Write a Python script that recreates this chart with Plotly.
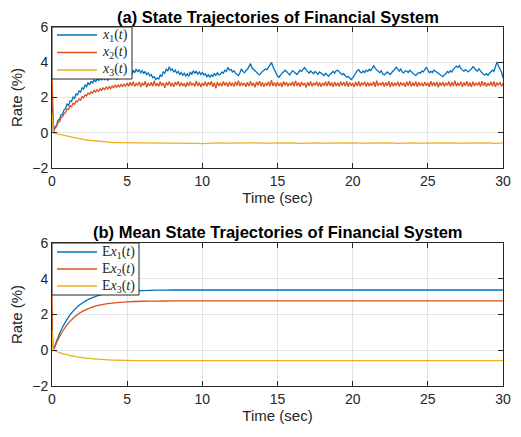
import numpy as np
import plotly.graph_objects as go

# ---------------- data ----------------
DT = 0.1  # sampling step of the simulated trajectories (sec)

x1 = [
    2.00, 0.08, 0.35, 0.42, 0.70, 0.78, 1.02, 1.05, 1.30, 1.36,
    1.62, 1.55, 1.80, 1.78, 2.02, 1.95, 2.20, 2.15, 2.38, 2.30,
    2.55, 2.48, 2.70, 2.62, 2.85, 2.72, 2.92, 2.80, 3.02, 2.88,
    3.08, 2.95, 3.12, 2.98, 3.18, 3.02, 3.15, 2.96, 3.12, 3.05,
    3.20, 3.05, 3.22, 3.00, 3.18, 3.08, 3.25, 3.10, 3.30, 3.15,
    3.35, 3.20, 3.42, 3.28, 3.55, 3.40, 3.62, 3.45, 3.58, 3.40,
    3.52, 3.35, 3.48, 3.30, 3.40, 3.22, 3.30, 3.12, 3.18, 3.02,
    3.10, 3.05, 3.28, 3.20, 3.45, 3.38, 3.60, 3.50, 3.75, 3.55,
    3.62, 3.45, 3.55, 3.38, 3.48, 3.30, 3.42, 3.25, 3.38, 3.22,
    3.35, 3.20, 3.45, 3.30, 3.52, 3.38, 3.48, 3.32, 3.45, 3.30,
    3.42, 3.28, 3.35, 3.18, 3.30, 3.15, 3.28, 3.20, 3.35, 3.25,
    3.40, 3.28, 3.32, 3.45, 3.38, 3.55, 3.48, 3.72, 3.55, 3.60,
    3.45, 3.52, 3.38, 3.30, 3.25, 3.40, 3.62, 3.48, 3.40, 3.52,
    3.60, 3.75, 3.92, 3.70, 3.60, 3.52, 3.45, 3.35, 3.28, 3.40,
    3.48, 3.55, 3.62, 3.58, 3.70, 3.85, 3.98, 3.75, 3.55, 3.40,
    3.22, 3.15, 3.30, 3.38, 3.45, 3.55, 3.48, 3.35, 3.28, 3.40,
    3.52, 3.45, 3.35, 3.30, 3.42, 3.55, 3.48, 3.62, 3.70, 3.58,
    3.45, 3.38, 3.50, 3.42, 3.35, 3.48, 3.40, 3.32, 3.45, 3.38,
    3.30, 3.25, 3.38, 3.28, 3.20, 3.32, 3.40, 3.48, 3.38, 3.52,
    3.55, 3.45, 3.38, 3.30, 3.35, 3.25, 3.15, 3.20, 3.08, 3.02,
    3.10, 3.25, 3.35, 3.52, 3.58, 3.45, 3.40, 3.50, 3.42, 3.55,
    3.48, 3.60, 3.52, 3.68, 3.80, 3.65, 3.55, 3.48, 3.40, 3.52,
    3.35, 3.28, 3.40, 3.45, 3.38, 3.30, 3.42, 3.50, 3.60, 3.72,
    3.58, 3.50, 3.62, 3.45, 3.40, 3.52, 3.48, 3.42, 3.55, 3.45,
    3.38, 3.30, 3.25, 3.35, 3.42, 3.38, 3.50, 3.45, 3.62, 3.72,
    3.55, 3.40, 3.48, 3.42, 3.55, 3.50, 3.45, 3.38, 3.30, 3.22,
    3.18, 3.28, 3.35, 3.48, 3.40, 3.52, 3.45, 3.60, 3.68, 3.78,
    3.70, 3.82, 3.65, 3.55, 3.48, 3.58, 3.52, 3.45, 3.55, 3.62,
    3.75, 3.68, 3.55, 3.50, 3.62, 3.48, 3.40, 3.32, 3.28, 3.35,
    3.25, 3.38, 3.45, 3.55, 3.48, 3.70, 4.02, 3.78, 3.65, 3.45,
    3.10,
]

x2 = [
    3.30, 0.05, 0.25, 0.35, 0.58, 0.62, 0.85, 0.90, 1.08, 1.15,
    1.35, 1.32, 1.52, 1.48, 1.68, 1.62, 1.80, 1.75, 1.92, 1.85,
    2.05, 1.98, 2.15, 2.08, 2.25, 2.18, 2.32, 2.24, 2.40, 2.30,
    2.45, 2.35, 2.50, 2.40, 2.55, 2.45, 2.60, 2.48, 2.62, 2.50,
    2.66, 2.55, 2.70, 2.58, 2.72, 2.60, 2.74, 2.62, 2.76, 2.64,
    2.82, 2.64, 2.86, 2.66, 2.90, 2.62, 2.80, 2.70, 2.88, 2.60,
    2.84, 2.68, 2.92, 2.58, 2.82, 2.66, 2.87, 2.63, 2.95, 2.65,
    2.80, 2.62, 2.89, 2.67, 2.84, 2.55, 2.86, 2.69, 2.91, 2.64,
    2.83, 2.61, 2.88, 2.70, 2.93, 2.63, 2.85, 2.66, 2.81, 2.59,
    2.87, 2.65, 2.90, 2.68, 2.82, 2.62, 2.94, 2.66, 2.85, 2.60,
    2.82, 2.67, 2.89, 2.63, 2.86, 2.70, 2.92, 2.61, 2.84, 2.52,
    2.88, 2.66, 2.83, 2.64, 2.91, 2.68, 2.86, 2.60, 2.89, 2.65,
    2.84, 2.62, 2.90, 2.67, 2.96, 2.64, 2.85, 2.69, 2.82, 2.61,
    2.87, 2.63, 2.92, 2.66, 2.84, 2.58, 2.89, 2.68, 2.93, 2.64,
    2.86, 2.61, 2.83, 2.67, 2.90, 2.63, 2.98, 2.65, 2.85, 2.62,
    2.88, 2.66, 2.84, 2.60, 2.91, 2.68, 2.86, 2.64, 2.82, 2.67,
    2.89, 2.63, 2.94, 2.66, 2.85, 2.61, 2.88, 2.69, 2.83, 2.57,
    2.87, 2.65, 2.91, 2.62, 2.84, 2.68, 2.90, 2.64, 2.86, 2.61,
    2.83, 2.67, 2.89, 2.63, 2.92, 2.66, 2.85, 2.60, 2.88, 2.65,
    2.84, 2.62, 2.90, 2.68, 2.86, 2.64, 2.93, 2.61, 2.87, 2.66,
    2.82, 2.60, 2.88, 2.65, 2.91, 2.63, 2.85, 2.69, 2.89, 2.62,
    2.86, 2.64, 2.83, 2.67, 2.90, 2.61, 2.95, 2.65, 2.84, 2.68,
    2.88, 2.62, 2.85, 2.66, 2.92, 2.59, 2.87, 2.64, 2.83, 2.67,
    2.90, 2.63, 2.86, 2.68, 2.84, 2.61, 2.89, 2.66, 2.94, 2.62,
    2.85, 2.65, 2.91, 2.60, 2.87, 2.67, 2.83, 2.63, 2.88, 2.66,
    2.84, 2.61, 2.92, 2.66, 2.86, 2.64, 2.89, 2.58, 2.85, 2.67,
    2.88, 2.63, 2.84, 2.68, 2.91, 2.62, 2.87, 2.65, 2.96, 2.64,
    2.83, 2.66, 2.89, 2.61, 2.86, 2.67, 2.92, 2.63, 2.85, 2.60,
    2.90, 2.65, 2.84, 2.68, 2.88, 2.62, 2.93, 2.66, 2.86, 2.63,
    2.82, 2.67, 2.89, 2.64, 2.91, 2.61, 2.85, 2.69, 2.87, 2.63,
    2.80,
]

# x3: 0.1 s samples over the first 5 s, then 0.5 s samples
x3_head = [
    1.10, 0.00, -0.03, -0.05, -0.08, -0.10, -0.12, -0.14, -0.16, -0.18,
    -0.20, -0.22, -0.24, -0.26, -0.28, -0.30, -0.31, -0.33, -0.34, -0.36,
    -0.37, -0.39, -0.40, -0.41, -0.42, -0.44, -0.45, -0.46, -0.47, -0.48,
    -0.49, -0.50, -0.50, -0.51, -0.52, -0.53, -0.53, -0.54, -0.54, -0.55,
    -0.55, -0.56, -0.56, -0.56, -0.57, -0.57, -0.57, -0.58, -0.57, -0.58,
]
x3_tail = [
    -0.58, -0.59, -0.57, -0.58, -0.60, -0.58, -0.57, -0.59, -0.58, -0.60,
    -0.62, -0.58, -0.57, -0.59, -0.58, -0.58, -0.60, -0.57, -0.59, -0.58,
    -0.57, -0.59, -0.58, -0.60, -0.58, -0.57, -0.59, -0.58, -0.58, -0.60,
    -0.57, -0.59, -0.58, -0.59, -0.57, -0.58, -0.60, -0.58, -0.57, -0.59,
    -0.58, -0.58, -0.60, -0.57, -0.59, -0.58, -0.57, -0.59, -0.58, -0.60,
    -0.58,
]

# mean trajectories
t_mean = [0.0, 0.1, 0.25, 0.5, 0.75, 1.0, 1.25, 1.5, 1.75, 2.0, 2.5, 3.0,
          3.5, 4.0, 4.5, 5.0, 6.0, 7.0, 8.0, 10.0, 15.0, 20.0, 25.0, 30.0]
ex1 = [2.20, 0.05, 0.38, 0.92, 1.37, 1.73, 2.03, 2.27, 2.47, 2.63, 2.87, 3.04,
       3.15, 3.22, 3.27, 3.30, 3.34, 3.36, 3.37, 3.37, 3.37, 3.37, 3.37, 3.37]
ex2 = [3.50, 0.05, 0.31, 0.76, 1.12, 1.42, 1.66, 1.86, 2.03, 2.16, 2.36, 2.49,
       2.58, 2.64, 2.68, 2.71, 2.74, 2.75, 2.76, 2.76, 2.76, 2.76, 2.76, 2.76]
ex3 = [1.10, 0.00, -0.05, -0.13, -0.20, -0.25, -0.30, -0.34, -0.38, -0.41, -0.46, -0.50,
       -0.53, -0.55, -0.56, -0.57, -0.58, -0.58, -0.58, -0.58, -0.58, -0.58, -0.58, -0.58]

x_ticks = [0, 5, 10, 15, 20, 25, 30]
y_ticks = [-2, 0, 2, 4, 6]

names_a = ["<i>x</i><sub>1</sub>(<i>t</i>)", "<i>x</i><sub>2</sub>(<i>t</i>)", "<i>x</i><sub>3</sub>(<i>t</i>)"]
names_b = ["E<i>x</i><sub>1</sub>(<i>t</i>)", "E<i>x</i><sub>2</sub>(<i>t</i>)", "E<i>x</i><sub>3</sub>(<i>t</i>)"]
colors = ["#0072BD", "#D95319", "#EDB120"]

# ---------------- figure ----------------
# the page body has an 8px margin, so the figure is offset by 8px in the window
OFF = 8
VW, VH = 521, 437                 # window size
W, H = VW - OFF, VH - OFF         # figure size
# plot-area edges in window pixels
PL, PR, PT, PB = 52, 503, 27, 386
ML, MR, MT, MB = PL - OFF, W - (PR - OFF), PT - OFF, H - (PB - OFF)
PW, PH = W - ML - MR, H - MT - MB

def px_x(p):  # window pixel -> paper x
    return (p - OFF - ML) / PW

def px_y(p):  # window pixel -> paper y
    return (H - MB - (p - OFF)) / PH

t_sim = np.round(np.arange(len(x1)) * DT, 2)
t3 = np.concatenate([np.round(np.arange(len(x3_head)) * DT, 2),
                     np.round(5.0 + np.arange(len(x3_tail)) * 0.5, 2)])
x3 = x3_head + x3_tail

fig = go.Figure()
for ys, ts, nm, c in [(x1, t_sim, names_a[0], colors[0]),
                      (x2, t_sim, names_a[1], colors[1]),
                      (x3, t3, names_a[2], colors[2])]:
    fig.add_trace(go.Scatter(x=ts, y=ys, mode="lines", name=nm, showlegend=False,
                             line=dict(color=c, width=1.3),
                             xaxis="x", yaxis="y"))
for ys, nm, c in zip([ex1, ex2, ex3], names_b, colors):
    fig.add_trace(go.Scatter(x=t_mean, y=ys, mode="lines", name=nm, showlegend=False,
                             line=dict(color=c, width=1.3, shape="spline", smoothing=0.6),
                             xaxis="x2", yaxis="y2"))

TOP_DOM = [px_y(168), 1.0]
BOT_DOM = [0.0, px_y(243)]
tick_font = dict(family="Liberation Sans, Arial, sans-serif", size=14, color="#262626")
title_font = dict(family="Liberation Sans, Arial, sans-serif", size=15, color="#262626")

def xax(anchor):
    return dict(range=[0, 30], tickvals=x_ticks, ticks="inside", ticklen=5,
                tickcolor="#262626", showline=True, linecolor="#262626", linewidth=1,
                mirror="ticks", showgrid=True, gridcolor="#e3e3e3", gridwidth=1,
                zeroline=False, tickfont=tick_font, anchor=anchor, automargin=False,
                title=dict(text="Time (sec)", font=title_font, standoff=2))

def yax(anchor, dom):
    return dict(range=[-2, 6], tickvals=y_ticks, ticks="inside", ticklen=5,
                tickcolor="#262626", showline=True, linecolor="#262626", linewidth=1,
                mirror="ticks", showgrid=True, gridcolor="#e3e3e3", gridwidth=1,
                zeroline=False, tickfont=tick_font, anchor=anchor, domain=dom,
                automargin=False,
                title=dict(text="Rate (%)", font=title_font, standoff=10))

# ---- hand-built MATLAB-style legends (box, line samples, labels) ----
shapes, annotations = [], []
legend_font = dict(family="Liberation Serif, DejaVu Serif, serif", size=14, color="#262626")
for box, rows, names in [((52, 132, 27, 79), (35, 52.5, 70), names_a),
                         ((52, 139, 243, 295), (252, 269, 286), names_b)]:
    x0, x1b, y0, y1b = box
    shapes.append(dict(type="rect", xref="paper", yref="paper",
                       x0=px_x(x0), x1=px_x(x1b), y0=px_y(y1b), y1=px_y(y0),
                       line=dict(color="#262626", width=1), fillcolor="white", layer="above"))
    for ry, nm, c in zip(rows, names, colors):
        shapes.append(dict(type="line", xref="paper", yref="paper",
                           x0=px_x(57), x1=px_x(97), y0=px_y(ry), y1=px_y(ry),
                           line=dict(color=c, width=1.6), layer="above"))
        annotations.append(dict(text=nm, xref="paper", yref="paper", x=px_x(100), y=px_y(ry),
                                xanchor="left", yanchor="middle", showarrow=False,
                                font=legend_font))

title_style = dict(family="Liberation Sans, Arial, sans-serif", size=16.5, color="black")
annotations.append(dict(text="<b>(a) State Trajectories of Financial System</b>",
                        xref="paper", yref="paper", x=0.5, y=px_y(17), yanchor="middle",
                        showarrow=False, font=title_style))
annotations.append(dict(text="<b>(b) Mean State Trajectories of Financial System</b>",
                        xref="paper", yref="paper", x=0.5, y=px_y(232), yanchor="middle",
                        showarrow=False, font=title_style))

fig.update_layout(
    width=W, height=H,
    margin=dict(l=ML, r=MR, t=MT, b=MB, autoexpand=False),
    paper_bgcolor="white", plot_bgcolor="white",
    xaxis=xax("y"), yaxis=yax("x", TOP_DOM),
    xaxis2=xax("y2"), yaxis2=yax("x2", BOT_DOM),
    showlegend=False,
    shapes=shapes,
    annotations=annotations,
)

fig.write_html("out.html")
